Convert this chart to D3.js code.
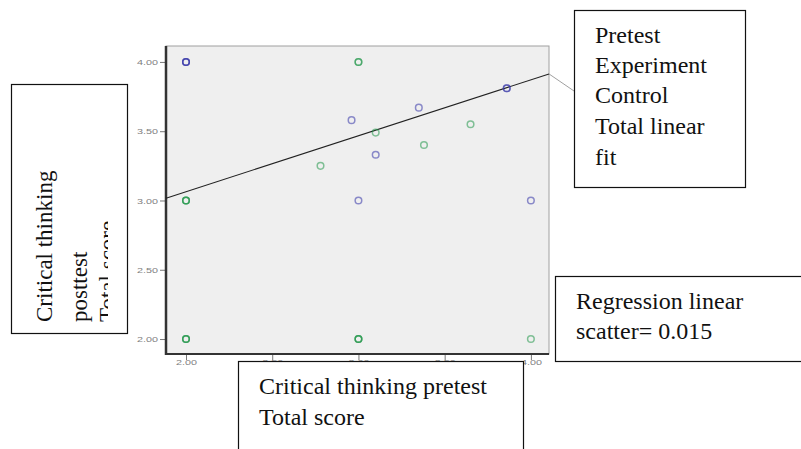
<!DOCTYPE html>
<html>
<head>
<meta charset="utf-8">
<script src="https://cdn.jsdelivr.net/npm/d3@7"></script>
<style>
  body { margin: 0; background: #fff; }
  svg { display: block; }
  .box text { font-family: "Liberation Serif", "DejaVu Serif", serif; fill: #111; }
  .tick-label { font-family: "Liberation Sans", Arial, sans-serif; fill: #808080; }
</style>
</head>
<body>
<svg id="chart" width="801" height="449"></svg>
<script>
// tick values on both axes
var xTicks = [2.00, 2.50, 3.00, 3.50, 4.00];
var yTicks = [2.00, 2.50, 3.00, 3.50, 4.00];

// experiment group (blue); repeated rows are overlapping cases
var experimentX = [2.00, 2.00, 2.00, 2.96, 3.10, 3.35, 3.86, 3.86, 3.00, 4.00];
var experimentY = [4.00, 4.00, 4.00, 3.58, 3.33, 3.67, 3.81, 3.81, 3.00, 3.00];

// control group (green)
var controlX = [3.00, 3.00, 3.10, 2.78, 3.38, 3.65, 2.00, 2.00, 2.00, 2.00, 2.00, 2.00, 3.00, 3.00, 3.00, 4.00];
var controlY = [4.00, 4.00, 3.49, 3.25, 3.40, 3.55, 3.00, 3.00, 3.00, 2.00, 2.00, 2.00, 2.00, 2.00, 2.00, 2.00];

// total linear fit
var fitIntercept = 2.255;
var fitSlope = 0.404;

var legendLines = ["Pretest", "Experiment", "Control", "Total linear", "fit"];
var yTitleLines = ["Critical thinking", "posttest", "Total score"];
var xTitleLines = ["Critical thinking pretest", "Total score"];
var noteLines = ["Regression linear", "scatter= 0.015"];

var svg = d3.select("#chart");
var plotL = 166, plotR = 549, plotT = 46, plotB = 354;

var x = d3.scaleLinear().domain([1.884, 4.105]).range([plotL, plotR]);
var y = d3.scaleLinear().domain([1.892, 4.115]).range([plotB, plotT]);

// plot panel
svg.append("rect")
    .attr("x", plotL).attr("y", plotT)
    .attr("width", plotR - plotL).attr("height", plotB - plotT)
    .attr("fill", "#efefef")
    .attr("stroke", "#a0a0a0").attr("stroke-width", 1);

// axes
var yAxis = svg.append("g")
    .attr("transform", "translate(" + plotL + ",0)")
    .call(d3.axisLeft(y).tickValues(yTicks).tickSize(6).tickFormat(d3.format(".2f")));
var xAxis = svg.append("g")
    .attr("transform", "translate(0," + plotB + ")")
    .call(d3.axisBottom(x).tickValues(xTicks).tickSize(6).tickFormat(d3.format(".2f")));

[yAxis, xAxis].forEach(function(a) {
    a.select(".domain").remove();
    a.selectAll(".tick line").attr("stroke", "#777").attr("stroke-width", 1);
    a.selectAll(".tick text")
        .attr("class", "tick-label")
        .attr("font-size", 7.5)
        .attr("textLength", 21)
        .attr("lengthAdjust", "spacingAndGlyphs");
});
yAxis.selectAll(".tick text").attr("x", -8).attr("dy", "0.35em");
xAxis.selectAll(".tick text").attr("y", 6).attr("dy", "0.7em");

svg.append("line")
    .attr("x1", plotL).attr("x2", plotL).attr("y1", plotT).attr("y2", plotB + 1)
    .attr("stroke", "#333").attr("stroke-width", 2.5);
svg.append("line")
    .attr("x1", plotL - 1).attr("x2", plotR).attr("y1", plotB).attr("y2", plotB)
    .attr("stroke", "#333").attr("stroke-width", 2);

// fit line + leader to the legend box
var fitLine = d3.line()
    .x(function(d) { return x(d); })
    .y(function(d) { return y(fitIntercept + fitSlope * d); });
svg.append("path")
    .datum(x.domain())
    .attr("d", fitLine)
    .attr("fill", "none").attr("stroke", "#222").attr("stroke-width", 1.1);

var xEnd = x.domain()[1];
svg.append("line")
    .attr("x1", x(xEnd)).attr("y1", y(fitIntercept + fitSlope * xEnd))
    .attr("x2", 574).attr("y2", 91)
    .attr("stroke", "#888").attr("stroke-width", 0.8);

// points
function drawPoints(xs, ys, color) {
    svg.append("g").selectAll("circle")
        .data(xs.map(function(v, i) { return [v, ys[i]]; }))
        .enter().append("circle")
        .attr("cx", function(d) { return x(d[0]); })
        .attr("cy", function(d) { return y(d[1]); })
        .attr("r", 3.3)
        .attr("fill", "none")
        .attr("stroke", color)
        .attr("stroke-width", 1.5)
        .attr("stroke-opacity", 0.55);
}
drawPoints(experimentX, experimentY, "#3434a8");
drawPoints(controlX, controlY, "#22984a");

// text boxes
function textBox(bx, by, bw, bh, lines, tx, baselines, size) {
    var g = svg.append("g").attr("class", "box");
    g.append("rect")
        .attr("x", bx).attr("y", by).attr("width", bw).attr("height", bh)
        .attr("fill", "#fff").attr("stroke", "#111").attr("stroke-width", 1.2);
    g.selectAll("text")
        .data(lines)
        .enter().append("text")
        .attr("x", tx)
        .attr("y", function(d, i) { return baselines[i]; })
        .attr("font-size", size)
        .text(function(d) { return d; });
    return g;
}

textBox(574.5, 10.5, 171, 177, legendLines, 595, [43, 73, 103, 134, 165], 24);
textBox(238.5, 361.5, 285, 100, xTitleLines, 259, [394, 425], 24);
textBox(555.5, 276.5, 260, 85, noteLines, 576, [309, 339], 24);

// rotated y title, last line cut off by the box
svg.append("clipPath").attr("id", "ycl")
    .append("rect").attr("x", 12).attr("y", 84).attr("width", 96).attr("height", 249);
var yb = svg.append("g").attr("class", "box");
yb.append("rect")
    .attr("x", 11.5).attr("y", 84.5).attr("width", 116).attr("height", 249)
    .attr("fill", "#fff").attr("stroke", "#111").attr("stroke-width", 1.2);
var yBase = [52, 87, 115];
yb.append("g").attr("clip-path", "url(#ycl)")
    .selectAll("text")
    .data(yTitleLines)
    .enter().append("text")
    .attr("transform", function(d, i) { return "translate(" + yBase[i] + ",322) rotate(-90)"; })
    .attr("font-size", 23)
    .text(function(d) { return d; });
</script>
</body>
</html>
